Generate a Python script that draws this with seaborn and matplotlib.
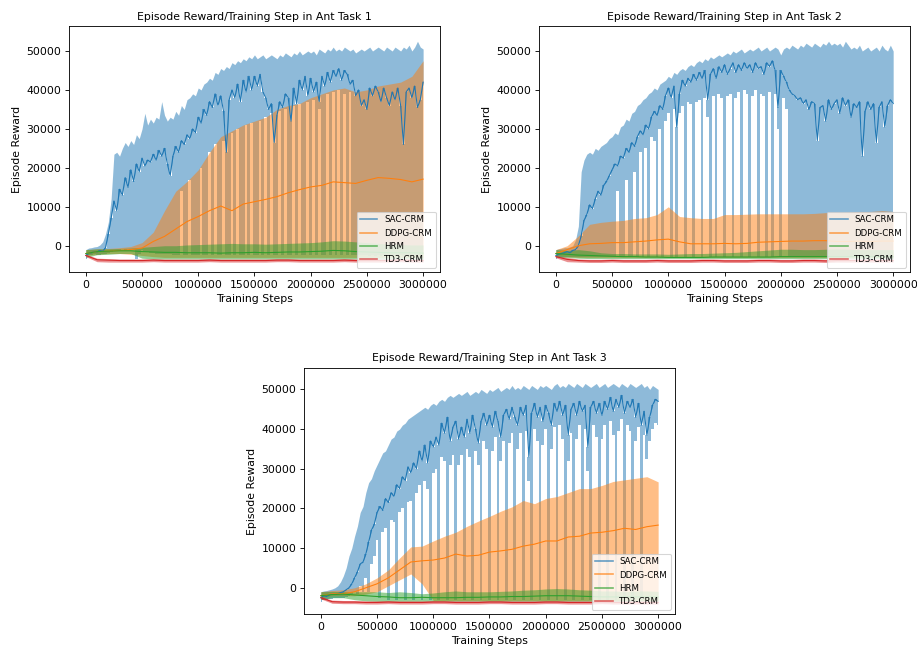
import numpy as np
import matplotlib
matplotlib.use("Agg")
import matplotlib.pyplot as plt
from matplotlib.lines import Line2D
import seaborn as sns

# rewards below are in thousands
steps_fine = np.arange(0, 3000001, 25000)      # 121 points
steps_coarse = np.arange(0, 3000001, 100000)   # 31 points

labels = ["SAC-CRM", "DDPG-CRM", "HRM", "TD3-CRM"]
colors = ["#1f77b4", "#ff7f0e", "#2ca02c", "#d62728"]

# ---------------- Ant Task 1 ----------------
t1_sac_mean = [
    -2.5, -2.0, -1.8, -1.5, -1.6, -1.2, -1.4, -0.5, 3.0, 7.0,
    11.5, 9.0, 14.5, 13.0, 17.5, 15.0, 19.5, 16.5, 21.0, 19.0,
    22.5, 20.5, 22.0, 21.5, 23.5, 22.0, 24.5, 23.0, 25.0, 21.0,
    18.0, 23.0, 25.5, 24.0, 27.0, 26.0, 28.5, 27.5, 30.0, 29.0,
    33.0, 31.5, 35.0, 33.5, 37.0, 35.5, 39.0, 36.0, 38.5, 34.5,
    24.0, 37.5, 40.0, 38.0, 41.5, 37.0, 42.5, 39.5, 43.5, 40.0,
    43.5, 41.0, 44.0, 39.5, 38.0, 35.0, 36.5, 26.5, 33.5, 37.0,
    35.5, 39.0, 38.0, 32.0, 40.5, 36.5, 42.5, 40.0, 43.5, 38.5,
    43.0, 39.5, 42.0, 37.0, 43.5, 41.0, 44.5, 42.0, 45.0, 43.5,
    45.5, 42.5, 45.0, 44.0, 41.5, 42.5, 38.5, 40.0, 36.0, 37.5,
    35.0, 40.5, 38.5, 41.0, 39.5, 37.0, 40.5, 38.0, 36.0, 39.5,
    37.5, 40.5, 36.0, 26.0, 39.5, 40.5, 38.0, 41.0, 35.5, 37.5, 42.0,
]
t1_sac_lo = [
    -3.5, -2.5, -2.3, -2.2, -2.5, -2.3, -2.2, -2.0, -1.8, -1.5,
    -1.2, -1.0, -1.0, -0.8, -1.0, -0.8, -1.0, -1.2, -3.5, -2.0,
    -1.2, -1.5, -1.5, -1.8, -1.8, -2.0, -2.0, -2.0, -2.2, -2.2,
    -2.2, -2.4, -2.4, -2.5, 14.0, -2.5, -2.5, 17.0, -2.5, -2.5,
    -2.5, 20.0, -2.5, -2.5, 24.0, -2.5, 26.0, -2.5, -2.5, 27.0,
    -2.5, -2.5, 29.0, -2.5, 30.0, -2.5, -2.5, 31.0, -2.5, 31.5,
    -2.5, -2.5, 32.0, -2.5, 33.0, -2.5, 34.0, -2.5, -2.5, 34.5,
    -2.5, 35.0, -2.5, -2.5, 36.0, -2.5, 36.5, -2.5, -2.5, 37.0,
    -2.5, 37.5, -2.5, 35.0, -2.5, -2.5, 39.0, -2.5, 39.5, -2.5,
    40.0, -2.5, 39.0, -2.5, 39.5, -2.5, -2.5, -2.5, -2.5, -2.5,
    -2.5, -2.6, -2.5, -2.6, -2.5, -2.6, -2.5, -2.6, -2.5, -2.6,
    -2.5, -2.6, -2.5, -2.6, -2.5, -2.6, -2.5, -2.6, -2.5, -2.6, -2.5,
]
t1_sac_hi = [
    -1.0, -0.6, -0.5, -0.3, -0.2, 0.2, 1.0, 3.0, 6.0, 12.0,
    23.5, 24.0, 23.0, 25.0, 26.5, 25.5, 27.0, 26.0, 28.5, 27.5,
    30.0, 34.0, 31.0, 32.5, 31.5, 33.0, 32.5, 37.0, 33.5, 32.0,
    33.0, 32.5, 34.5, 33.5, 36.0, 35.0, 37.5, 38.0, 39.0, 38.5,
    40.5, 40.0, 41.5, 42.0, 43.0, 42.5, 44.5, 44.0, 45.5, 45.0,
    46.0, 45.5, 47.0, 46.5, 47.5, 47.0, 48.0, 47.5, 48.5, 48.0,
    49.0, 48.0, 48.5, 49.0, 48.0, 48.5, 49.0, 48.5, 48.0, 49.0,
    48.5, 49.5, 49.0, 48.5, 49.5, 49.0, 50.0, 49.0, 49.5, 50.0,
    49.5, 50.0, 49.0, 50.5, 50.0, 49.5, 50.5, 50.0, 51.0, 50.0,
    50.5, 50.0, 51.0, 50.5, 50.0, 50.5, 49.5, 50.0, 50.5, 50.0,
    50.5, 51.0, 50.0, 50.5, 51.0, 50.5, 50.0, 51.0, 50.5, 50.0,
    51.0, 50.5, 50.0, 51.0, 50.5, 51.5, 50.0, 51.0, 52.5, 51.0, 50.5,
]
t1_ddpg_mean = [-2.0, -1.5, -1.4, -1.2, -1.0, -0.6, 1.1, 2.4, 4.3, 6.2, 7.5,
                9.0, 10.2, 9.0, 10.7, 11.3, 11.9, 12.6, 13.6, 14.4, 15.1,
                15.5, 16.4, 16.2, 16.0, 16.8, 17.5, 17.3, 17.0, 16.4, 17.1]
t1_ddpg_lo = [-2.5, -2.2, -2.0, -2.0, -2.2, -2.5, -2.8, -3.0, -3.0, -3.0, -3.0,
              -3.0, -3.0, -3.0, -3.0, -3.0, -3.0, -3.0, -3.0, -3.0, -3.0,
              -3.0, -3.0, -3.0, -3.0, -3.0, -3.0, -3.0, -3.0, -3.0, -3.0]
t1_ddpg_hi = [-1.0, -0.8, -0.7, -0.5, -0.2, 0.8, 3.5, 9.0, 14.0, 16.5, 19.5,
              24.0, 28.0, 29.5, 31.0, 32.0, 33.0, 35.0, 36.0, 36.5, 38.0,
              39.0, 40.0, 40.5, 39.5, 40.0, 41.0, 41.5, 42.0, 43.5, 47.5]
t1_hrm_mean = [-2.0, -1.5, -1.4, -1.3, -1.3, -1.5, -1.6, -1.7, -1.7, -1.8, -1.8,
               -1.8, -1.9, -1.8, -1.8, -1.7, -1.8, -1.7, -1.6, -1.6, -1.5,
               -1.4, -1.2, -1.3, -1.5, -1.6, -1.7, -1.8, -1.8, -1.8, -1.9]
t1_hrm_lo = [-3.0, -2.3, -2.2, -2.0, -2.0, -3.2, -3.4, -3.4, -3.4, -3.4, -3.4,
             -3.4, -3.4, -3.4, -3.4, -3.4, -3.4, -3.4, -3.4, -3.4, -3.4,
             -3.4, -3.4, -3.4, -3.4, -3.4, -3.4, -3.4, -3.4, -3.4, -3.4]
t1_hrm_hi = [-1.0, -0.8, -0.8, -0.7, -0.6, -0.4, -0.2, 0.0, 0.0, 0.2, 0.3,
             0.4, 0.5, 0.6, 0.5, 0.5, 0.4, 0.5, 0.6, 0.7, 0.8,
             1.0, 1.3, 1.2, 1.0, 0.8, 0.6, 0.4, 0.3, 0.2, 0.2]
t1_td3_mean = [-2.5, -3.6, -3.7, -3.8, -3.8, -3.8, -3.7, -3.8, -3.8, -3.8, -3.8,
               -3.7, -3.8, -3.8, -3.8, -3.8, -3.8, -3.7, -3.7, -3.8, -3.8,
               -3.8, -3.8, -3.7, -3.8, -3.8, -3.8, -3.8, -3.7, -3.8, -3.8]
t1_td3_lo = [-2.8, -4.1, -4.2, -4.2, -4.2, -4.2, -4.1, -4.2, -4.2, -4.2, -4.2,
             -4.1, -4.2, -4.2, -4.2, -4.2, -4.2, -4.1, -4.1, -4.2, -4.2,
             -4.2, -4.2, -4.1, -4.2, -4.2, -4.2, -4.2, -4.1, -4.2, -4.2]
t1_td3_hi = [-2.2, -3.2, -3.3, -3.4, -3.4, -3.4, -3.3, -3.4, -3.4, -3.4, -3.4,
             -3.3, -3.4, -3.4, -3.4, -3.4, -3.4, -3.3, -3.3, -3.4, -3.4,
             -3.4, -3.4, -3.3, -3.4, -3.4, -3.4, -3.4, -3.3, -3.4, -3.4]

# ---------------- Ant Task 2 ----------------
t2_sac_mean = [
    -2.5, -2.2, -2.0, -1.8, -1.5, -1.8, -1.2, -1.0, 0.0, 2.5,
    6.5, 8.0, 10.5, 9.5, 12.0, 14.0, 13.0, 15.5, 16.5, 18.0,
    19.5, 21.0, 20.5, 23.0, 22.5, 25.0, 24.0, 26.5, 25.5, 28.0,
    29.5, 28.5, 31.0, 30.0, 33.0, 34.5, 33.5, 36.0, 35.0, 38.5,
    40.5, 38.0, 41.0, 30.5, 39.0, 42.5, 41.0, 43.0, 42.0, 44.0,
    42.5, 44.5, 43.0, 45.0, 37.5, 44.0, 45.5, 43.0, 46.0, 44.5,
    46.5, 44.0, 45.5, 47.0, 44.5, 46.5, 45.0, 47.0, 45.5, 46.5,
    44.5, 47.0, 45.5, 46.0, 44.0, 47.0, 46.0, 47.5, 45.0, 35.5,
    45.0, 43.5, 42.0, 40.0, 39.0, 38.5, 37.5, 38.0, 36.5, 37.5,
    35.0, 37.0, 36.5, 27.0, 35.5, 36.0, 32.0, 37.5, 35.0, 36.5,
    37.5, 34.0, 38.0, 36.0, 37.5, 33.0, 36.5, 35.5, 37.0, 23.0,
    34.5, 37.0, 35.0, 36.5, 26.5, 35.5, 37.0, 30.5, 36.0, 37.5, 36.5,
]
t2_sac_lo = [
    -3.5, -3.0, -3.0, -3.0, -3.0, -3.0, -3.0, -3.0, -3.0, -3.0,
    -3.0, -3.0, -3.0, -3.0, -3.0, -3.0, -3.0, -3.0, -3.0, -3.0,
    -3.0, -3.0, 14.0, -3.0, -3.0, 17.0, -3.0, -3.0, 19.0, -3.0,
    24.0, -3.0, 25.0, -3.0, 28.0, 27.0, -3.0, 30.0, -3.0, 32.0,
    34.0, -3.0, 35.0, -3.0, 34.0, 36.0, -3.0, 37.0, 36.5, -3.0,
    37.0, 37.5, -3.0, 38.0, 33.0, -3.0, 38.5, -3.0, 39.0, 38.0,
    -3.0, 38.5, 39.0, -3.0, 38.0, 39.5, -3.0, 40.0, 39.0, -3.0,
    38.5, 40.0, -3.0, 39.0, 38.5, -3.0, 39.5, -3.0, 39.0, 30.0,
    -3.0, 38.0, 35.0, -3.0, -3.0, -3.0, -3.0, -3.0, -3.0, -3.0,
    -3.0, -3.0, -3.0, -3.0, -3.0, -3.0, -3.0, -3.0, -3.0, -3.0,
    -3.0, -3.0, -3.0, -3.0, -3.0, -3.0, -3.0, -3.0, -3.0, -3.0,
    -3.0, -3.0, -3.0, -3.0, -3.0, -3.0, -3.0, -3.0, -3.0, -3.0, -3.0,
]
t2_sac_hi = [
    -1.0, -0.8, -0.7, -0.5, -0.5, -0.3, 0.0, 1.5, 5.0, 19.0,
    22.0, 23.5, 24.0, 23.5, 25.0, 24.5, 25.5, 26.0, 26.5, 27.5,
    28.0, 29.0, 28.5, 30.5, 31.0, 32.5, 32.0, 34.0, 34.5, 36.0,
    36.5, 37.5, 38.0, 39.0, 39.5, 40.5, 40.0, 41.5, 42.0, 42.5,
    43.5, 43.0, 44.5, 44.0, 45.0, 45.5, 45.0, 46.0, 46.5, 46.0,
    47.0, 47.5, 47.0, 48.0, 47.5, 48.5, 48.0, 48.5, 49.0, 48.5,
    49.0, 49.5, 49.0, 50.0, 49.5, 50.0, 50.5, 49.5, 50.0, 50.5,
    50.0, 50.5, 51.0, 50.0, 50.5, 51.0, 50.0, 50.5, 51.0, 50.5,
    49.0, 50.5, 51.0, 50.5, 51.5, 51.0, 50.5, 51.5, 51.0, 52.0,
    51.5, 51.0, 52.0, 51.5, 51.0, 52.0, 51.5, 52.5, 51.5, 52.0,
    51.5, 52.0, 51.0, 52.5, 51.5, 50.5, 51.0, 50.5, 51.5, 50.0,
    50.5, 51.0, 50.0, 50.5, 51.0, 50.0, 51.5, 50.5, 50.0, 51.5, 50.0,
]
t2_ddpg_mean = [-2.0, -1.0, 0.0, 0.5, 0.6, 0.8, 0.8, 1.0, 1.2, 1.5, 1.7,
                1.0, 0.5, 0.5, 0.5, 0.6, 0.5, 0.6, 0.9, 1.0, 1.1,
                1.2, 1.2, 1.3, 1.3, 1.1, 1.1, 1.2, 1.1, 1.2, 1.2]
t2_ddpg_lo = [-2.5, -2.8, -3.0, -3.0, -3.0, -3.0, -3.0, -3.0, -3.0, -3.0, -3.0,
              -3.0, -3.0, -3.0, -3.0, -3.0, -3.0, -3.0, -3.0, -3.0, -3.0,
              -3.0, -3.0, -3.0, -3.0, -3.0, -3.0, -3.0, -3.0, -3.0, -3.0]
t2_ddpg_hi = [-1.0, 0.0, 2.5, 5.5, 6.0, 6.3, 6.5, 7.0, 7.2, 8.0, 10.0,
              7.5, 7.2, 7.0, 7.0, 8.0, 8.0, 8.1, 8.2, 8.2, 8.2,
              8.2, 8.2, 8.3, 8.5, 8.5, 8.6, 8.8, 8.8, 9.0, 8.8]
t2_hrm_mean = [-2.0, -2.2, -2.4, -2.5, -2.6, -2.7, -2.8, -2.8, -2.9, -2.9, -3.0,
               -3.0, -3.0, -3.0, -2.9, -2.9, -2.9, -2.9, -2.9, -2.9, -2.8,
               -2.8, -2.8, -2.8, -2.8, -2.8, -2.8, -2.8, -2.8, -2.8, -2.8]
t2_hrm_lo = [-3.0, -3.0, -3.2, -3.3, -3.3, -3.3, -3.3, -3.3, -3.3, -3.3, -3.3,
             -3.3, -3.3, -3.3, -3.3, -3.3, -3.3, -3.3, -3.3, -3.3, -3.3,
             -3.3, -3.3, -3.3, -3.3, -3.3, -3.3, -3.3, -3.3, -3.3, -3.3]
t2_hrm_hi = [-1.0, -1.2, -1.0, -1.3, -1.8, -2.0, -2.0, -2.1, -2.1, -2.1, -2.2,
             -2.1, -2.0, -2.0, -1.9, -1.8, -1.7, -1.5, -1.3, -1.1, -0.9,
             -0.9, -1.0, -1.0, -0.9, -0.8, -0.9, -1.0, -1.0, -1.0, -1.0]
t2_td3_mean = [-2.8, -3.5, -3.8, -3.9, -3.9, -3.8, -3.9, -3.9, -3.9, -3.8, -3.9,
               -3.9, -3.9, -3.8, -3.8, -3.9, -3.9, -3.9, -3.8, -3.8, -3.9,
               -3.9, -3.8, -3.8, -3.9, -3.8, -3.8, -3.8, -3.8, -3.8, -3.8]
t2_td3_lo = [-3.1, -4.1, -4.2, -4.3, -4.3, -4.2, -4.3, -4.3, -4.3, -4.2, -4.3,
             -4.3, -4.3, -4.2, -4.2, -4.3, -4.3, -4.3, -4.2, -4.2, -4.3,
             -4.3, -4.2, -4.2, -4.3, -4.2, -4.2, -4.2, -4.2, -4.2, -4.2]
t2_td3_hi = [-2.5, -3.0, -3.4, -3.5, -3.5, -3.4, -3.5, -3.5, -3.5, -3.4, -3.5,
             -3.5, -3.5, -3.4, -3.4, -3.5, -3.5, -3.5, -3.4, -3.4, -3.5,
             -3.5, -3.4, -3.4, -3.5, -3.4, -3.4, -3.4, -3.4, -3.4, -3.4]

# ---------------- Ant Task 3 ----------------
t3_sac_mean = [
    -2.5, -2.0, -2.2, -1.8, -1.5, -1.7, -1.5, -1.2, -1.0, -0.5,
    0.0, 1.0, 2.5, 4.0, 6.0, 6.5, 8.5, 11.5, 14.5, 16.0,
    19.0, 20.5, 19.5, 22.5, 21.5, 24.0, 23.0, 26.0, 25.0, 28.0,
    27.0, 30.5, 29.0, 31.5, 30.0, 34.5, 32.0, 36.0, 31.5, 37.0,
    35.5, 38.0, 36.0, 41.5, 39.0, 43.0, 37.0, 40.5, 42.0, 37.5,
    40.5, 38.0, 42.5, 39.0, 43.5, 40.0, 36.5, 42.0, 44.0, 41.0,
    43.5, 40.5, 44.5, 42.0, 38.0, 43.5, 45.0, 42.5, 45.5, 43.0,
    41.0, 45.5, 43.5, 46.0, 33.0, 44.0, 46.5, 43.0, 45.5, 42.0,
    46.0, 44.0, 41.0, 46.5, 44.5, 47.0, 43.5, 46.0, 38.5, 45.0,
    46.5, 43.5, 47.0, 44.5, 46.0, 35.5, 45.5, 47.0, 44.0, 46.5,
    43.5, 47.0, 45.0, 48.0, 44.5, 47.5, 45.5, 48.5, 44.0, 47.0,
    45.5, 47.5, 43.0, 46.5, 41.0, 44.5, 38.5, 43.0, 46.0, 47.5, 47.0,
]
t3_sac_lo = [
    -3.5, -3.0, -3.0, -2.8, -2.8, -2.5, -2.5, -2.5, -2.5, -2.3,
    -2.0, -1.5, -1.0, -1.5, 0.5, -1.0, 2.5, -1.0, 6.0, 8.0,
    12.0, -2.5, 14.0, 15.0, -3.0, 17.0, 16.5, -3.0, 19.0, 20.0,
    -3.0, 21.5, 22.0, -3.0, 24.0, 26.0, -3.0, 27.0, 25.0, -3.0,
    29.0, 30.0, -3.0, 33.0, 32.0, -3.0, 31.0, 33.5, -3.0, 31.0,
    33.5, -3.0, 35.0, 33.0, -3.0, 34.5, 31.0, -3.0, 37.0, 35.0,
    -3.0, 34.5, 38.0, -3.0, 32.0, 37.0, -3.0, 36.5, 39.0, -3.0,
    35.0, 39.0, -3.0, 39.5, 27.0, -3.0, 40.0, 37.0, -3.0, 36.0,
    40.0, -3.0, 35.0, 40.5, -3.0, 41.0, 37.5, -3.0, 32.0, 39.0,
    -3.0, 37.5, 41.0, -3.0, 40.0, 29.5, -3.0, 41.0, 38.0, -3.0,
    37.5, 41.0, -3.0, 42.0, 38.5, -3.0, 39.5, 42.5, -3.0, 41.0,
    39.5, -3.0, 37.0, 40.5, -3.0, 38.5, 32.5, 37.0, 40.0, 41.5, 41.0,
]
t3_sac_hi = [
    -1.0, -0.8, -0.7, -0.5, -0.3, 0.0, 0.5, 1.5, 3.0, 5.0,
    8.0, 10.0, 13.0, 15.5, 19.0, 20.5, 24.0, 26.5, 27.5, 29.5,
    31.0, 32.5, 34.0, 34.5, 36.0, 37.5, 38.0, 39.5, 40.0, 41.0,
    41.5, 42.5, 43.0, 43.5, 44.0, 44.5, 45.0, 45.5, 45.0, 46.0,
    46.5, 46.0, 47.0, 47.5, 47.0, 48.0, 48.5, 48.0, 48.5, 49.0,
    48.5, 49.0, 49.5, 48.5, 49.0, 49.5, 49.0, 50.0, 49.5, 49.0,
    50.0, 49.5, 50.0, 50.5, 49.5, 50.0, 50.5, 50.0, 51.0, 50.0,
    50.5, 50.0, 51.0, 50.5, 50.0, 51.0, 50.5, 50.0, 51.0, 50.5,
    51.0, 50.5, 50.0, 51.0, 51.5, 50.5, 51.0, 50.5, 51.5, 51.0,
    50.5, 51.5, 51.0, 50.5, 51.5, 51.0, 50.5, 51.0, 51.5, 50.5,
    51.0, 51.5, 50.5, 51.0, 51.5, 51.0, 50.5, 51.5, 51.0, 50.5,
    51.5, 51.0, 50.5, 51.0, 51.5, 50.5, 51.0, 50.0, 51.0, 50.5, 50.0,
]
t3_ddpg_mean = [-2.0, -1.5, -1.5, -1.0, 0.0, 1.0, 2.5, 4.5, 6.5, 6.8, 7.0,
                7.5, 8.5, 8.0, 8.2, 9.0, 9.3, 9.7, 10.5, 11.0, 11.8,
                11.8, 12.8, 13.0, 13.8, 14.0, 14.4, 15.0, 14.7, 15.4, 15.8]
t3_ddpg_lo = [-2.5, -2.0, -2.0, -2.0, -1.6, -1.0, 0.5, 2.0, 3.5, 1.0, -3.2,
              -3.2, -3.2, -3.2, -3.2, -3.2, -3.2, -3.2, -3.2, -3.2, -3.2,
              -3.2, -3.2, -3.2, -3.2, -3.2, -3.2, -3.2, -3.2, -3.2, -3.2]
t3_ddpg_hi = [-1.0, -0.7, -0.5, 0.0, 1.0, 2.5, 4.5, 7.5, 10.3, 10.5, 11.8,
              13.0, 14.0, 15.5, 16.8, 18.0, 19.3, 20.4, 22.0, 21.2, 22.5,
              23.0, 24.0, 25.0, 25.0, 25.8, 26.8, 27.2, 27.6, 28.0, 26.7]
t3_hrm_mean = [-2.0, -1.7, -1.6, -1.8, -2.0, -2.2, -2.3, -2.5, -2.5, -2.4, -2.5,
               -2.5, -2.5, -2.4, -2.4, -2.3, -2.3, -2.2, -2.2, -2.1, -2.0,
               -2.0, -2.0, -2.1, -2.2, -2.3, -2.3, -2.3, -2.3, -2.3, -2.3]
t3_hrm_lo = [-3.0, -2.5, -2.5, -3.0, -3.3, -3.4, -3.4, -3.4, -3.4, -3.4, -3.4,
             -3.4, -3.4, -3.4, -3.4, -3.4, -3.4, -3.4, -3.4, -3.4, -3.4,
             -3.4, -3.4, -3.4, -3.4, -3.4, -3.4, -3.4, -3.4, -3.4, -3.4]
t3_hrm_hi = [-1.0, -0.9, -1.0, -1.0, -1.0, -1.0, -1.2, -1.0, -1.2, -1.5, -1.3,
             -1.0, -0.8, -1.0, -1.0, -1.0, -0.9, -0.8, -0.6, -0.5, -0.3,
             -0.2, -0.3, -0.5, -0.6, -0.8, -0.8, -0.9, -0.8, -0.8, -0.9]
t3_td3_mean = [-2.5, -3.5, -3.6, -3.6, -3.7, -3.7, -3.6, -3.7, -3.7, -3.7, -3.6,
               -3.6, -3.7, -3.7, -3.7, -3.6, -3.6, -3.7, -3.7, -3.7, -3.6,
               -3.6, -3.7, -3.7, -3.7, -3.6, -3.7, -3.7, -3.7, -3.7, -3.7]
t3_td3_lo = [-2.8, -3.9, -4.0, -4.0, -4.1, -4.1, -4.0, -4.1, -4.1, -4.1, -4.0,
             -4.0, -4.1, -4.1, -4.1, -4.0, -4.0, -4.1, -4.1, -4.1, -4.0,
             -4.0, -4.1, -4.1, -4.1, -4.0, -4.1, -4.1, -4.1, -4.1, -4.1]
t3_td3_hi = [-2.2, -3.1, -3.2, -3.2, -3.3, -3.3, -3.2, -3.3, -3.3, -3.3, -3.2,
             -3.2, -3.3, -3.3, -3.3, -3.2, -3.2, -3.3, -3.3, -3.3, -3.2,
             -3.2, -3.3, -3.3, -3.3, -3.2, -3.3, -3.3, -3.3, -3.3, -3.3]

tasks = [
    ("Episode Reward/Training Step in Ant Task 1", (-6750, 56400),
     [(steps_fine, t1_sac_mean, t1_sac_lo, t1_sac_hi),
      (steps_coarse, t1_ddpg_mean, t1_ddpg_lo, t1_ddpg_hi),
      (steps_coarse, t1_hrm_mean, t1_hrm_lo, t1_hrm_hi),
      (steps_coarse, t1_td3_mean, t1_td3_lo, t1_td3_hi)]),
    ("Episode Reward/Training Step in Ant Task 2", (-6750, 56400),
     [(steps_fine, t2_sac_mean, t2_sac_lo, t2_sac_hi),
      (steps_coarse, t2_ddpg_mean, t2_ddpg_lo, t2_ddpg_hi),
      (steps_coarse, t2_hrm_mean, t2_hrm_lo, t2_hrm_hi),
      (steps_coarse, t2_td3_mean, t2_td3_lo, t2_td3_hi)]),
    ("Episode Reward/Training Step in Ant Task 3", (-6600, 55400),
     [(steps_fine, t3_sac_mean, t3_sac_lo, t3_sac_hi),
      (steps_coarse, t3_ddpg_mean, t3_ddpg_lo, t3_ddpg_hi),
      (steps_coarse, t3_hrm_mean, t3_hrm_lo, t3_hrm_hi),
      (steps_coarse, t3_td3_mean, t3_td3_lo, t3_td3_hi)]),
]

DPI = 78
fig = plt.figure(figsize=(917 / DPI, 648 / DPI), dpi=DPI)
axes = [
    fig.add_axes([0.0752, 0.5802, 0.4046, 0.3796]),
    fig.add_axes([0.5878, 0.5802, 0.4046, 0.3796]),
    fig.add_axes([0.3315, 0.0525, 0.4046, 0.3796]),
]

for ax, (title, ylim, series) in zip(axes, tasks):
    for color, (x, mean, lo, hi) in zip(colors, series):
        mean = np.array(mean) * 1000
        lo = np.array(lo) * 1000
        hi = np.array(hi) * 1000
        if len(x) == len(steps_fine):
            # upper half smooth, lower half as narrow steps so the seed
            # crashes show up as thin vertical streaks
            ax.fill_between(x, mean, hi, color=color, alpha=0.5, linewidth=0)
            ax.fill_between(x, lo, mean, color=color, alpha=0.5, linewidth=0,
                            step="mid")
        else:
            ax.fill_between(x, lo, hi, color=color, alpha=0.5, linewidth=0)
        sns.lineplot(x=x, y=mean, ax=ax, color=color, linewidth=1.0,
                     legend=False)
    ax.set_xlim(-150000, 3150000)
    ax.set_ylim(*ylim)
    ax.set_xticks(np.arange(0, 3000001, 500000))
    ax.ticklabel_format(axis="x", style="plain")
    ax.set_title(title, fontsize=10)
    ax.set_xlabel("Training Steps")
    ax.set_ylabel("Episode Reward")
    handles = [Line2D([], [], color=c, linewidth=1.5, alpha=0.7) for c in colors]
    ax.legend(handles, labels, loc="lower right", fontsize=8)

fig.savefig("out.png", dpi=DPI)
